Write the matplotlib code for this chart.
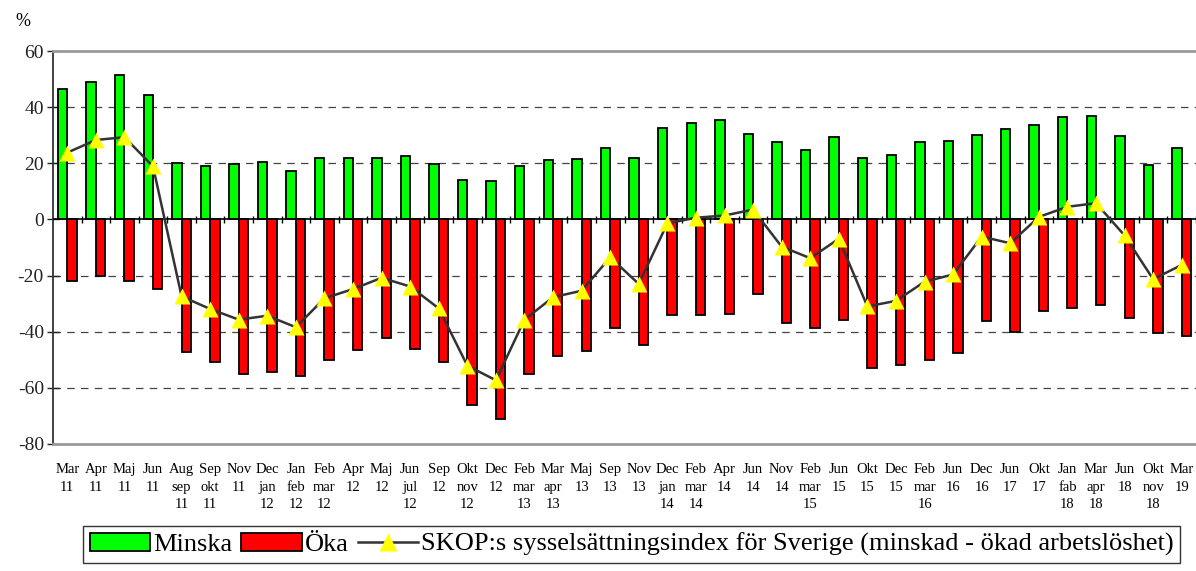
import numpy as np
import matplotlib.pyplot as plt
from matplotlib.lines import Line2D
from matplotlib.patches import Patch

# Kategorier (x-axel)
labels = ['Mar\n11', 'Apr\n11', 'Maj\n11', 'Jun\n11', 'Aug\nsep\n11', 'Sep\nokt\n11',
          'Nov\n11', 'Dec\njan\n12', 'Jan\nfeb\n12', 'Feb\nmar\n12', 'Apr\n12', 'Maj\n12',
          'Jun\njul\n12', 'Sep\n12', 'Okt\nnov\n12', 'Dec\n12', 'Feb\nmar\n13', 'Mar\napr\n13',
          'Maj\n13', 'Sep\n13', 'Nov\n13', 'Dec\njan\n14', 'Feb\nmar\n14', 'Apr\n14',
          'Jun\n14', 'Nov\n14', 'Feb\nmar\n15', 'Jun\n15', 'Okt\n15', 'Dec\n15',
          'Feb\nmar\n16', 'Jun\n16', 'Dec\n16', 'Jun\n17', 'Okt\n17', 'Jan\nfab\n18',
          'Mar\napr\n18', 'Jun\n18', 'Okt\nnov\n18', 'Mar\n19']

minska = [46.3, 49.1, 51.4, 44.2, 20.1, 19.2, 19.8, 20.4, 17.4, 21.8, 22.0, 21.8,
          22.6, 19.6, 14.1, 13.6, 19.2, 21.2, 21.5, 25.5, 21.9, 32.7, 34.5, 35.5,
          30.4, 27.5, 24.9, 29.3, 22.0, 22.8, 27.5, 28.0, 30.1, 32.1, 33.8, 36.4,
          36.9, 29.8, 19.3, 25.3]

oka = [-22.1, -20.3, -21.9, -24.8, -47.3, -50.7, -55.0, -54.3, -55.6, -50.0, -46.6, -42.3,
       -46.3, -50.8, -66.2, -71.2, -55.0, -48.8, -46.8, -38.7, -44.7, -33.9, -33.9, -33.8,
       -26.7, -37.0, -38.8, -35.7, -52.9, -51.7, -49.9, -47.6, -36.2, -40.2, -32.7, -31.6,
       -30.4, -35.2, -40.3, -41.5]

index = [23.8, 28.3, 29.3, 18.9, -27.4, -31.9, -35.7, -34.3, -38.4, -28.1, -24.8, -20.8,
         -23.9, -31.7, -52.1, -57.3, -35.7, -27.7, -25.4, -13.5, -23.0, -1.4, 0.6, 1.4,
         3.5, -9.7, -13.8, -6.9, -31.0, -29.0, -22.2, -19.6, -6.1, -8.5, 0.9, 4.5,
         5.8, -5.7, -21.3, -16.2]

plt.rcParams['font.family'] = ['Liberation Serif', 'DejaVu Serif']
plt.rcParams['axes.unicode_minus'] = False

fig = plt.figure(figsize=(11.96, 5.71), dpi=100)
ax = fig.add_axes([53/1196, 127/571, 1143/1196, 393/571])

x = np.arange(len(labels))
w = 0.33
ax.bar(x - w, minska, width=w, align='edge', color='#00FF00', edgecolor='black', linewidth=1.3, zorder=3)
ax.bar(x, oka, width=w, align='edge', color='#FF0000', edgecolor='black', linewidth=1.3, zorder=3)
ax.plot(x, index, color='#333333', linewidth=1.8, marker='^', markersize=12,
        markerfacecolor='#FFFF00', markeredgecolor='none', zorder=5)

# gridlines
for yv in [40, 20, -20, -40, -60]:
    ax.axhline(yv, color='#444444', linewidth=0.9, dashes=(6, 5), zorder=1)
ax.axhline(0, color='black', linewidth=1.2, zorder=4)
ax.vlines(np.arange(len(labels)) + 0.5, -1.2, 1.2, colors='black', linewidth=1, zorder=4)

ax.set_xlim(-0.5, len(labels) - 0.5)
ax.set_ylim(-80, 60)
ax.set_yticks(range(-80, 61, 20))
ax.set_xticks(x)
ax.set_xticklabels(labels, fontsize=10.5, linespacing=1.45, va='top')
ax.tick_params(axis='x', length=0, pad=14)
ax.tick_params(axis='y', direction='inout', length=9, width=1, labelsize=14, pad=2, colors='#222222')

for s in ['top', 'bottom']:
    ax.spines[s].set_color('#999999')
    ax.spines[s].set_linewidth(2)
ax.spines['left'].set_color('#333333')
ax.spines['left'].set_linewidth(1.3)
ax.spines['right'].set_visible(False)

fig.text(23/1196, 1 - 22/571, '%', fontsize=13, ha='center', va='center')

handles = [Patch(facecolor='#00FF00', edgecolor='black', linewidth=1.3),
           Patch(facecolor='#FF0000', edgecolor='black', linewidth=1.3),
           Line2D([], [], color='#333333', linewidth=1.8, marker='^', markersize=13,
                  markerfacecolor='#FFFF00', markeredgecolor='none')]
leg = fig.legend(handles, ['Minska', 'Öka', 'SKOP:s sysselsättningsindex för Sverige (minskad - ökad arbetslöshet)'],
                 loc='upper left', bbox_to_anchor=(83/1196, 1 - 526/571), ncol=3, fontsize=19,
                 frameon=True, fancybox=False, edgecolor='black', handlelength=2.3,
                 handletextpad=0.1, columnspacing=0.35, borderpad=0.25, borderaxespad=0)
leg.get_frame().set_linewidth(1)

fig.savefig('out.png', dpi=100)
